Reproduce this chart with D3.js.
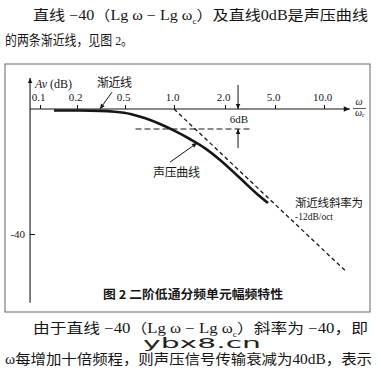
<!DOCTYPE html>
<html><head><meta charset="utf-8">
<script src="https://cdn.jsdelivr.net/npm/d3@7"></script>
<style>html,body{margin:0;padding:0;background:#fff;} svg{display:block;}</style>
</head><body>
<svg id="c" width="379" height="373"></svg>
<script>
// ---- data ----
const xTicks = [0.1, 0.2, 0.5, 1, 2, 5, 10];
const xTickLabels = ["0.1", "0.2", "0.5", "1.0", "2.0", "5.0", "10.0"];
const yTicks = [-40];
const yTickLabels = ["-40"];
const curveFreq = [0.13, 0.21, 0.31, 0.41, 0.54, 0.66, 0.82, 1.01, 1.24, 1.52, 1.87, 2.63, 3.60, 4.40];
const curveDb   = [-0.5, -0.5, -0.6, -0.9, -1.6, -2.9, -4.8, -7.0, -9.6, -12.5, -16.3, -22.1, -27.2, -30.1];
const asymFreq = [1.0, 13.8];
const asymDb = [0, -52.2];
const xAxisExtent = [0.083, 14.4];
const yAxisExtent = [9.9, -62];
const sixDbLineFreq = [0.58, 3.28];
const sixDbLevel = -6.4;
const sixDbArrowFreq = 2.54;
const sixDbArrowDown = [7.7, 0];
const sixDbArrowUp = [-12.5, -6.4];
const asymLabelArrow = {from: [0.39, 5.4], to: [0.31, 0]};
const curveLabelArrow = {from: [0.945, -17], to: [1.367, -10.9]};

// ---- layout ----
const svg = d3.select("#c");
const ink = "#161616";
const x = d3.scaleLog().domain(xTicks).range([40, 77, 125, 174, 225, 275, 324]);
const y = d3.scaleLinear().domain([0, -40]).range([109, 234]);
const x0 = x(xAxisExtent[0]);

const defs = svg.append("defs");
function marker(id, w, h) {
  defs.append("marker").attr("id", id).attr("viewBox", "0 0 10 10")
    .attr("refX", 10).attr("refY", 5).attr("markerUnits", "userSpaceOnUse")
    .attr("markerWidth", w).attr("markerHeight", h).attr("orient", "auto")
    .append("path").attr("d", "M0,0.5 L10,5 L0,9.5 Z").attr("fill", ink);
}
marker("ax", 9, 6);
marker("ar", 7, 5);

// body text
const cjk = "'Liberation Serif','Noto Sans CJK SC',serif";
function bodyLine(parts, xx, yy, len, fs) {
  const t = svg.append("text").attr("x", xx).attr("y", yy)
    .attr("font-family", cjk).attr("font-size", fs || 14).attr("fill", ink);
  parts.forEach(p => {
    const s = t.append("tspan").text(p.t);
    if (p.sub) s.attr("font-size", 8).attr("dy", 4);
    if (p.up) s.attr("dy", -4);
  });
  if (len) t.attr("textLength", len).attr("lengthAdjust", "spacingAndGlyphs");
  return t;
}
bodyLine([{t: "直线 −40（Lg ω − Lg ω"}, {t: "c", sub: true}, {t: "）及直线0dB是声压曲线", up: true}], 33, 20, 335);
bodyLine([{t: "的两条渐近线，见图 2。"}], 5, 45, 128, 13.5);
bodyLine([{t: "由于直线 −40（Lg ω − Lg ω"}, {t: "c", sub: true}, {t: "）斜率为 −40，即", up: true}], 33, 333, 335);
bodyLine([{t: "ω每增加十倍频程，则声压信号传输衰减为40dB，表示"}], 5, 364, 367);
svg.append("text").attr("x", 143).attr("y", 347.5).text("ybx8.cn")
  .attr("font-family", "'DejaVu Sans',sans-serif").attr("font-size", 14).attr("fill", "#222")
  .attr("textLength", 118).attr("lengthAdjust", "spacingAndGlyphs");

// frame
svg.append("rect").attr("x", 5).attr("y", 64).attr("width", 365).attr("height", 248)
  .attr("fill", "none").attr("stroke", "#666").attr("stroke-width", 1);

// caption
svg.append("text").attr("x", 193).attr("y", 299).attr("text-anchor", "middle")
  .attr("font-family", "'Noto Sans CJK SC',sans-serif").attr("font-weight", "bold")
  .attr("font-size", 12).attr("fill", ink).text("图 2  二阶低通分频单元幅频特性")
  .attr("textLength", 180).attr("lengthAdjust", "spacingAndGlyphs");

// x axis
const gx = svg.append("g").attr("transform", `translate(0,${y(0)})`)
  .call(d3.axisTop(x).tickValues(xTicks).tickFormat((d, i) => xTickLabels[i]).tickSize(4).tickPadding(4));
gx.select(".domain").remove();
gx.selectAll("line").attr("stroke", ink);
gx.selectAll("text").attr("font-family", "'Liberation Serif',serif").attr("font-size", 11).attr("fill", ink).attr("dx", -2);
svg.append("line").attr("x1", x0).attr("x2", x(xAxisExtent[1])).attr("y1", y(0)).attr("y2", y(0))
  .attr("stroke", ink).attr("stroke-width", 1.1).attr("marker-end", "url(#ax)");

// y axis
const gy = svg.append("g").attr("transform", `translate(${x0},0)`)
  .call(d3.axisLeft(y).tickValues(yTicks).tickFormat((d, i) => yTickLabels[i]).tickSize(-5).tickPadding(5));
gy.select(".domain").remove();
gy.selectAll("line").attr("stroke", ink);
gy.selectAll("text").attr("font-family", "'Liberation Serif',serif").attr("font-size", 11).attr("fill", ink);
svg.append("line").attr("x1", x0).attr("x2", x0).attr("y1", y(yAxisExtent[1])).attr("y2", y(yAxisExtent[0]))
  .attr("stroke", ink).attr("stroke-width", 1.1).attr("marker-end", "url(#ar)");

// axis titles
const av = svg.append("text").attr("x", 35).attr("y", 88).attr("font-family", "'Liberation Serif',serif")
  .attr("font-size", 12).attr("fill", ink);
av.append("tspan").attr("font-style", "italic").text("Av");
av.append("tspan").text(" (dB)");
svg.append("text").attr("x", 359).attr("y", 105).attr("text-anchor", "middle").attr("font-family", "'Liberation Serif',serif")
  .attr("font-style", "italic").attr("font-size", 10).attr("fill", ink).text("ω");
svg.append("line").attr("x1", 353).attr("x2", 366).attr("y1", 108.5).attr("y2", 108.5).attr("stroke", ink).attr("stroke-width", 0.7);
const wc = svg.append("text").attr("x", 355).attr("y", 116).attr("font-family", "'Liberation Serif',serif")
  .attr("font-style", "italic").attr("font-size", 10).attr("fill", ink);
wc.append("tspan").text("ω");
wc.append("tspan").attr("font-size", 6).attr("dy", 1).text("c");

// asymptote
const line = d3.line().x(d => x(d[0])).y(d => y(d[1]));
svg.append("path").attr("d", line(asymFreq.map((f, i) => [f, asymDb[i]])))
  .attr("fill", "none").attr("stroke", ink).attr("stroke-width", 1.3).attr("stroke-dasharray", "4,3");

// 6 dB marker
svg.append("path").attr("d", line(sixDbLineFreq.map(f => [f, sixDbLevel])))
  .attr("fill", "none").attr("stroke", ink).attr("stroke-width", 1).attr("stroke-dasharray", "6,3");
svg.append("path").attr("d", line(sixDbArrowDown.map(v => [sixDbArrowFreq, v])))
  .attr("stroke", ink).attr("stroke-width", 1).attr("marker-end", "url(#ar)");
svg.append("path").attr("d", line(sixDbArrowUp.map(v => [sixDbArrowFreq, v])))
  .attr("stroke", ink).attr("stroke-width", 1).attr("marker-end", "url(#ar)");
svg.append("text").attr("x", 239).attr("y", 123).attr("text-anchor", "middle")
  .attr("font-family", "'Liberation Serif',serif").attr("font-size", 11).attr("fill", ink).text("6dB");

// response curve
const curveLine = d3.line().x(d => x(d[0])).y(d => y(d[1])).curve(d3.curveMonotoneX);
svg.append("path").attr("d", curveLine(curveFreq.map((f, i) => [f, curveDb[i]])))
  .attr("fill", "none").attr("stroke", ink).attr("stroke-width", 2.6).attr("stroke-linecap", "butt");

// annotations
svg.append("path").attr("d", line([asymLabelArrow.from, asymLabelArrow.to]))
  .attr("stroke", ink).attr("stroke-width", 1).attr("marker-end", "url(#ar)");
svg.append("text").attr("x", 97).attr("y", 87).attr("font-family", "'Noto Sans CJK SC',sans-serif")
  .attr("font-size", 12).attr("fill", ink).text("渐近线").attr("textLength", 35);
svg.append("path").attr("d", line([curveLabelArrow.from, curveLabelArrow.to]))
  .attr("stroke", ink).attr("stroke-width", 1).attr("marker-end", "url(#ar)");
svg.append("text").attr("x", 153).attr("y", 177).attr("font-family", "'Noto Sans CJK SC',sans-serif")
  .attr("font-size", 12).attr("fill", ink).text("声压曲线").attr("textLength", 47);
svg.append("text").attr("x", 295).attr("y", 207).attr("font-family", "'Noto Sans CJK SC',sans-serif")
  .attr("font-size", 11.5).attr("fill", ink).text("渐近线斜率为").attr("textLength", 68);
svg.append("text").attr("x", 295).attr("y", 220).attr("font-family", "'Liberation Serif',serif")
  .attr("font-size", 11).attr("fill", ink).text("-12dB/oct").attr("textLength", 38).attr("lengthAdjust", "spacingAndGlyphs");
</script>
</body></html>
